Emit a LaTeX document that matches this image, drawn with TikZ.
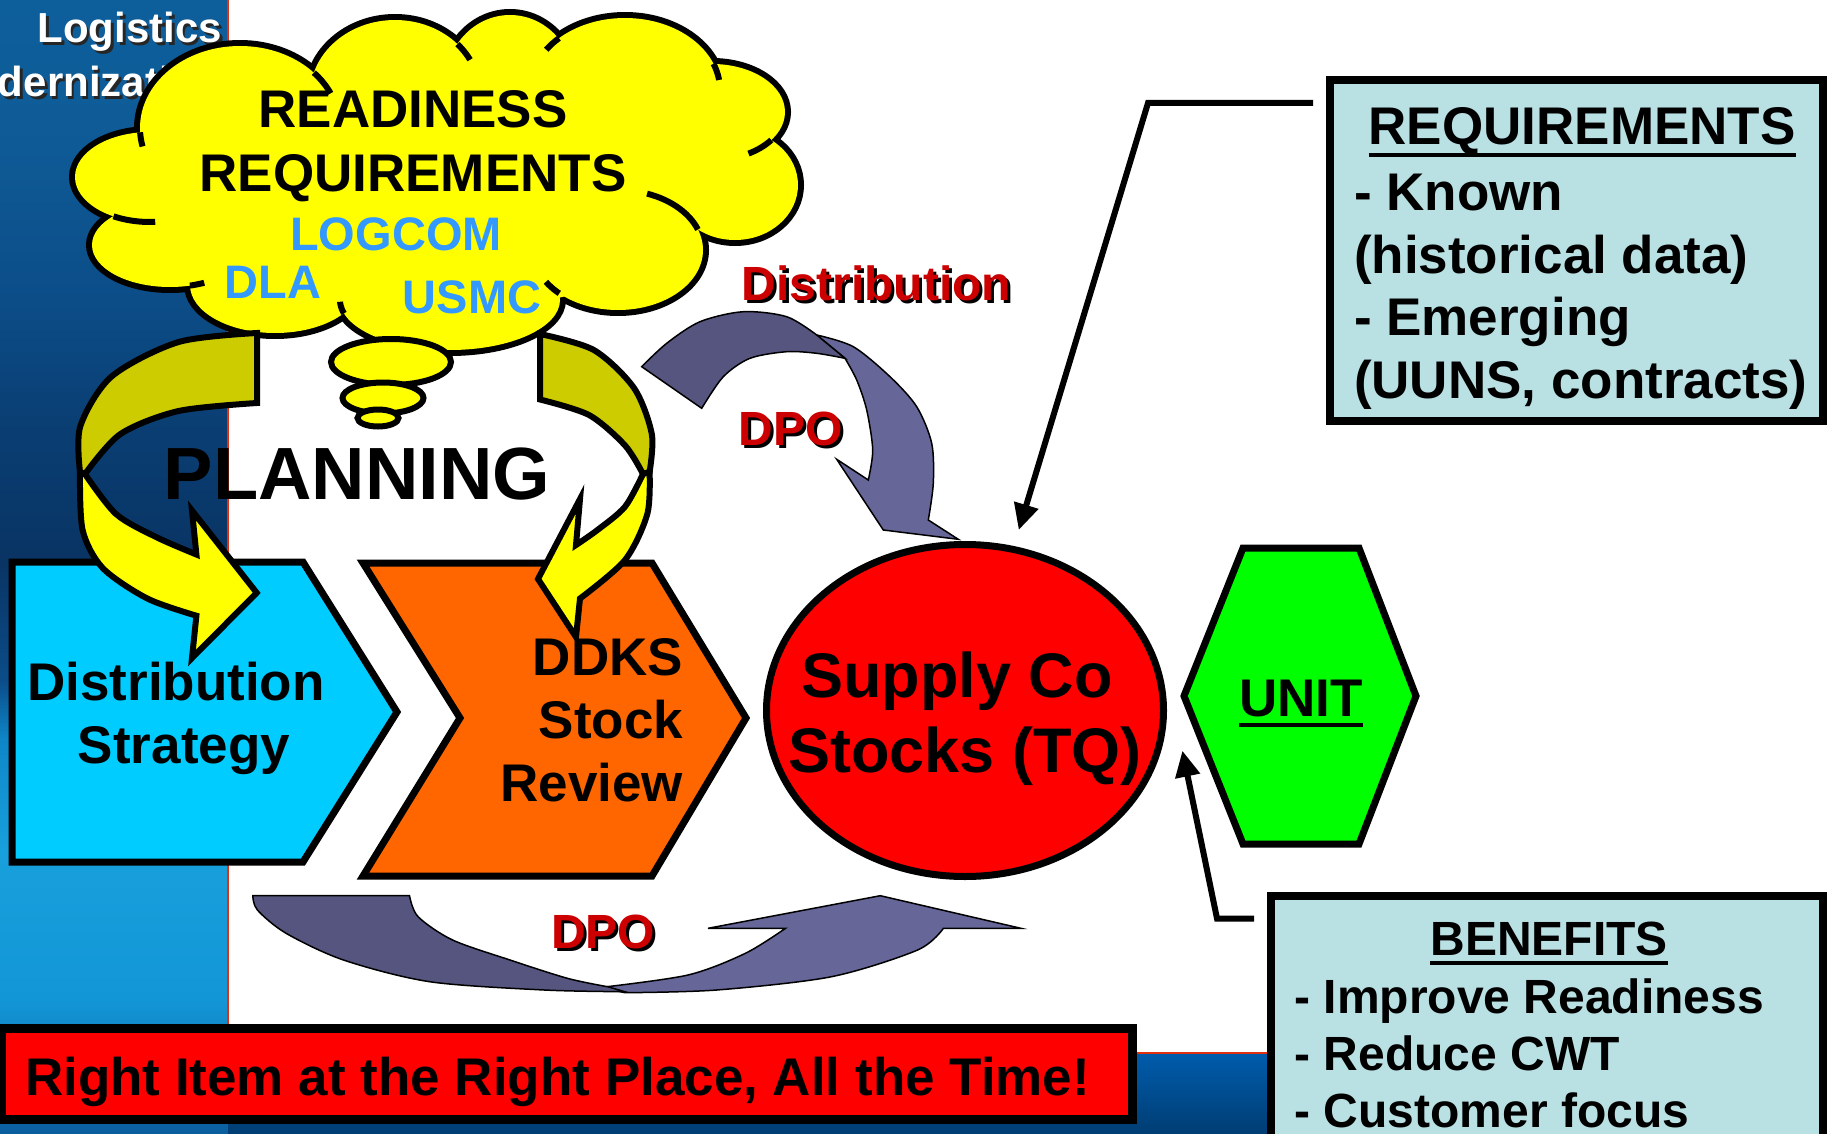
\documentclass[tikz,border=0pt]{standalone}
\usepackage{fontspec}
\setmainfont{Liberation Sans}
\usetikzlibrary{arrows.meta,shapes.geometric}

\definecolor{cyanbox}{HTML}{00CCFF}
\definecolor{orangebox}{HTML}{FF6600}
\definecolor{greenbox}{HTML}{00FF00}
\definecolor{cloudyel}{HTML}{FFFF00}
\definecolor{olivey}{HTML}{CCCC00}
\definecolor{skyblue}{HTML}{3399FF}
\definecolor{labelred}{HTML}{CC0000}
\definecolor{boxblue}{HTML}{B9E0E3}
\definecolor{arrowdark}{HTML}{555580}
\definecolor{arrowlight}{HTML}{666699}
\definecolor{sb0}{HTML}{0B5E9E}
\definecolor{sb1}{HTML}{1396D6}
\definecolor{sb2}{HTML}{18A0DC}
\definecolor{sb3}{HTML}{0E86C8}
\definecolor{sb4}{HTML}{0B4C88}
\definecolor{sb5}{HTML}{093464}
\definecolor{sb6}{HTML}{0A3F74}
\definecolor{sb7}{HTML}{0C4D88}
\definecolor{sb8}{HTML}{0E5A96}
\definecolor{sb9}{HTML}{0D5F9C}
\definecolor{bstop}{HTML}{005CAC}
\definecolor{bsbot}{HTML}{003D73}
\definecolor{redline}{HTML}{E03010}

\pgfdeclareverticalshading{stripshade}{100bp}{color(0bp)=(sb0); color(25bp)=(sb0); color(30.9bp)=(sb1); color(37.5bp)=(sb2); color(42.4bp)=(sb3); color(45bp)=(sb4); color(50.3bp)=(sb5); color(56.5bp)=(sb6); color(61.8bp)=(sb7); color(68.4bp)=(sb8); color(75bp)=(sb9); color(100bp)=(sb9)}

\newcommand\setfs[1]{\fontsize{#1}{#1}\selectfont}
\newcommand\ulx[2][11]{\setbox0=\hbox{#2}\rlap{\rule[-#1pt]{\wd0}{4pt}}\box0}
\newcommand\carc[6]{\draw[cloudline] plot[domain=#5:#6,samples=16] ({#1+#3*cos(\x)},{#2+#4*sin(\x)});}

\begin{document}
\begin{tikzpicture}[x=1pt,y=-1pt,
  lbl/.style={inner sep=0pt,outer sep=0pt,font=\bfseries},
  shapeline/.style={draw=black,line width=7pt,line join=miter},
  cloudline/.style={draw=black,line width=6pt},
  yarrow/.style={draw=black,line width=6pt,line join=miter},
  barrow/.style={draw=black,line width=1.5pt,line join=miter},
  conn/.style={draw=black,line width=6pt,-{Triangle[length=26pt,width=24pt]}},
  textbox/.style={draw=black,line width=8pt,fill=boxblue,inner sep=0pt,outer sep=0pt,anchor=north west}]
\useasboundingbox (0,0) rectangle (1827,1134);
\begin{scope}
\clip (0,0) rectangle (1827,1134);
% background
\fill[white] (0,0) rectangle (1827,1134);
\fill[shading=stripshade] (0,0) rectangle (228,1134);
\shade[top color=bstop,bottom color=bsbot] (228,1053) rectangle (1827,1134);
\draw[redline,line width=1.5pt] (228,0) -- (228,1053);
\draw[redline,line width=1.5pt] (228,1053) -- (1827,1053);

% title text
\node[lbl,anchor=base east,text=black!85] (logis) at (224.5,45.5) {\setfs{42}Logistics};
\node[lbl,anchor=base east,text=white] (logi) at (222,43) {\setfs{42}Logistics};
\node[lbl,anchor=base east,text=black!85] (mods) at (224.5,99.5) {\setfs{42}Modernization};
\node[lbl,anchor=base east,text=white] (mod) at (222,97) {\setfs{42}Modernization};

% cloud
\foreach \cx/\cy/\rx/\ry in {150/177/75/45,170/245/78/42,275/285/85/48,450/300/110/50,618/250/85/60,735/185/63/55,712/112/73/48,625/90/95/72,510/85/65/70,395/95/85/75,240/128/100/82,440/190/270/120}
  \draw[line width=12pt] (\cx,\cy) ellipse [x radius=\rx, y radius=\ry];
\foreach \cx/\cy/\rx/\ry in {150/177/75/45,170/245/78/42,275/285/85/48,450/300/110/50,618/250/85/60,735/185/63/55,712/112/73/48,625/90/95/72,510/85/65/70,395/95/85/75,240/128/100/82,440/190/270/120}
  \fill[cloudyel] (\cx,\cy) ellipse [x radius=\rx, y radius=\ry];
\carc{240}{128}{100}{82}{177}{167}
\carc{240}{128}{100}{82}{-42.4}{-25}
\carc{150}{177}{75}{45}{119.1}{86}
\carc{170}{245}{78}{42}{75.2}{64}
\carc{450}{300}{110}{50}{164.5}{178}
\carc{618}{250}{85}{60}{133.7}{148}
\carc{618}{250}{85}{60}{-20}{-70}
\carc{712}{112}{73}{48}{35.7}{60}
\carc{625}{90}{95}{72}{-21.3}{-8}
\carc{625}{90}{95}{72}{-134}{-146}
\carc{395}{95}{85}{75}{-42.7}{-28}
% thought bubbles
\filldraw[cloudline,fill=cloudyel] (391,362) ellipse [x radius=60, y radius=23];
\filldraw[cloudline,fill=cloudyel] (383,398) ellipse [x radius=40.5, y radius=15.5];
\filldraw[cloudline,fill=cloudyel] (378,418) ellipse [x radius=20.5, y radius=8.5];
% cloud text
\node[lbl,anchor=base] (rr1) at (413,128) {\setfs{53}READINESS};
\node[lbl,anchor=base] (rr2) at (413,192) {\setfs{53}REQUIREMENTS};
\node[lbl,anchor=base,text=skyblue] (logcom) at (396,250) {\setfs{47}LOGCOM};
\node[lbl,anchor=base,text=skyblue] (dla) at (273,298) {\setfs{47}DLA};
\node[lbl,anchor=base,text=skyblue] (usmc) at (472,313) {\setfs{47}USMC};

% process boxes
\draw[shapeline,fill=cyanbox] (12,562) -- (303,562) -- (397,712) -- (303,862) -- (12,862) -- cycle;
\node[lbl,anchor=base] (ds1) at (176,700) {\setfs{53}Distribution};
\node[lbl,anchor=base] (ds2) at (184,763) {\setfs{53}Strategy};
\draw[shapeline,fill=orangebox] (363,563) -- (652,563) -- (746,718) -- (652,876) -- (363,876) -- (460,718) -- cycle;
\node[lbl,anchor=base east] (dd1) at (683,675) {\setfs{53}DDKS};
\node[lbl,anchor=base east] (dd2) at (683,738) {\setfs{53}Stock};
\node[lbl,anchor=base east] (dd3) at (683,801) {\setfs{53}Review};

% yellow planning arrows
\filldraw[yarrow,fill=olivey] (257,333) -- plot[smooth] coordinates {(257,333) (178.6,342) (111.6,376.5) (80.4,426) (80,472)} -- (85,474) -- plot[smooth] coordinates {(85,474) (120.5,434) (178.6,411) (257,403)} -- cycle;
\filldraw[yarrow,fill=cloudyel] (80,472) -- plot[smooth] coordinates {(80,472) (82.6,530) (102.7,568) (147.3,598.5) (196.4,615.7)} -- (192,658) -- (256.7,592.8) -- (192,510.5) -- (196.4,554.5) -- plot[smooth] coordinates {(196.4,554.5) (156,537) (116,514) (85,474)} -- cycle;
\filldraw[yarrow,fill=olivey] (540,334) -- plot[smooth] coordinates {(540,334) (593.8,350) (634,388) (651.8,434) (649.6,472)} -- (643,474) -- plot[smooth] coordinates {(643,474) (625,445.4) (589,415) (540,399.5)} -- cycle;
\filldraw[yarrow,fill=cloudyel] (649.6,472) -- plot[smooth] coordinates {(649.6,472) (647.3,514) (625,560) (580,598.5)} -- (576,637) -- (538,579) -- (580,499) -- (576,545) -- plot[smooth] coordinates {(576,545) (598,529.6) (625,506.7) (643,474)} -- cycle;
\node[lbl,anchor=base] (planning) at (357,499) {\setfs{74}PLANNING};

% supply ellipse
\node[draw=black,line width=7pt,fill=red,ellipse,minimum width=397pt,minimum height=332pt,inner sep=0pt] (supply) at (965,710.5) {};
\node[lbl,anchor=base] (sc1) at (957,697) {\setfs{63}Supply Co};
\node[lbl,anchor=base] (sc2) at (965,772) {\setfs{63}Stocks (TQ)};

% unit hexagon
\draw[shapeline,fill=greenbox] (1243,548) -- (1359,548) -- (1416,696) -- (1359,844) -- (1243,844) -- (1184,696) -- cycle;
\node[lbl,anchor=base] (unit) at (1301,716) {\setfs{53}\ulx[10.5]{UNIT}};

% blue distribution arrows
\filldraw[barrow,fill=arrowlight] (816.7,335) -- plot[smooth] coordinates {(816.7,335) (853.3,346.7) (890,376.7) (916.7,406.7) (931.7,443.3) (933.3,483.3) (928.3,520)} -- (958.3,539.3) -- (883.3,530) -- (836.7,459.3) -- (868.3,480) -- plot[smooth] coordinates {(868.3,480) (872.7,450) (866.7,410) (856.7,380) (845,358.3)} -- cycle;
\filldraw[barrow,fill=arrowdark] (641.7,366.7) -- plot[smooth] coordinates {(641.7,366.7) (666.7,343.3) (700,321.7) (743.3,311.7) (786.7,316.7) (816.7,335)} -- (845,358.3) -- plot[smooth] coordinates {(845,358.3) (816.7,353.3) (786.7,351.7) (750,358.3) (723.3,376.7) (701.7,408.3)} -- cycle;
\filldraw[barrow,fill=arrowlight] (601.8,987.3) -- plot[smooth] coordinates {(601.8,987.3) (688,975) (745.4,953.3) (785.5,928.3)} -- (708,928.3) -- (880.3,895.7) -- (1020.9,928.3) -- (943.4,928.3) -- plot[smooth] coordinates {(943.4,928.3) (917.6,950) (831.5,976.7) (716.6,990) (624.8,992.7)} -- cycle;
\filldraw[barrow,fill=arrowdark] (252.8,895.7) -- (409.5,895.7) -- plot[smooth] coordinates {(409.5,895.7) (418.1,916.7) (452.6,940) (510,960) (567.4,978.3) (607.6,986.7)} -- (624.8,991.7) -- plot[smooth] coordinates {(624.8,991.7) (544.4,990) (429.6,981.7) (343.5,960) (286.1,933.3) (257.4,910) (252.8,895.7)} -- cycle;

% red labels with shadow
\node[lbl,anchor=base,text=black] (distls) at (879.5,303) {\setfs{48}Distribution};
\node[lbl,anchor=base,text=labelred] (distl) at (876.5,300) {\setfs{48}Distribution};
\node[lbl,anchor=base,text=black] (dpoas) at (793.8,448) {\setfs{48}DPO};
\node[lbl,anchor=base,text=labelred] (dpoa) at (790.8,445) {\setfs{48}DPO};
\node[lbl,anchor=base,text=black] (dpobs) at (606,951) {\setfs{48}DPO};
\node[lbl,anchor=base,text=labelred] (dpob) at (603,948) {\setfs{48}DPO};

% requirements box
\node[textbox,minimum width=493pt,minimum height=341pt] (req) at (1330,80) {};
\node[lbl,anchor=base] (reqt) at (1582,145) {\setfs{53}\ulx[12]{REQUIREMENTS}};
\node[lbl,anchor=base west] (req1) at (1354,211) {\setfs{53}- Known};
\node[lbl,anchor=base west] (req2) at (1354,273.3) {\setfs{53}(historical data)};
\node[lbl,anchor=base west] (req3) at (1354,335.7) {\setfs{53}- Emerging};
\node[lbl,anchor=base west] (req4) at (1354,398) {\setfs{53}(UUNS, contracts)};

% benefits box
\node[textbox,minimum width=552pt,minimum height=260pt] (ben) at (1271,896) {};
\node[lbl,anchor=base] (bent) at (1549,955) {\setfs{48}\ulx[10]{BENEFITS}};
\node[lbl,anchor=base west] (ben1) at (1294.6,1013.5) {\setfs{48}- Improve Readiness};
\node[lbl,anchor=base west] (ben2) at (1294.6,1070) {\setfs{48}- Reduce CWT};
\node[lbl,anchor=base west] (ben3) at (1294.6,1127) {\setfs{48}- Customer focus};

% connectors
\coordinate (reqb) at (1148,103);
\coordinate (reqc) at (1018.75,530);
\draw[conn] ([xshift=-17pt]req.north west |- reqb) -- (reqb) -- (reqc);
\coordinate (benb) at (1217,918.5);
\coordinate (benc) at (1182.4,750.7);
\draw[conn] ([xshift=-17pt]ben.north west |- benb) -- (benb) -- (benc);

% banner
\node[draw=black,line width=9pt,fill=red,minimum width=1131.5pt,minimum height=91pt,inner sep=0pt,outer sep=0pt,anchor=north west] (bannerbox) at (1,1028.5) {};
\node[lbl,anchor=base west] (banner) at (25,1095) {\setfs{53}Right Item at the Right Place, All the Time!};
\end{scope}
\end{tikzpicture}
\end{document}
